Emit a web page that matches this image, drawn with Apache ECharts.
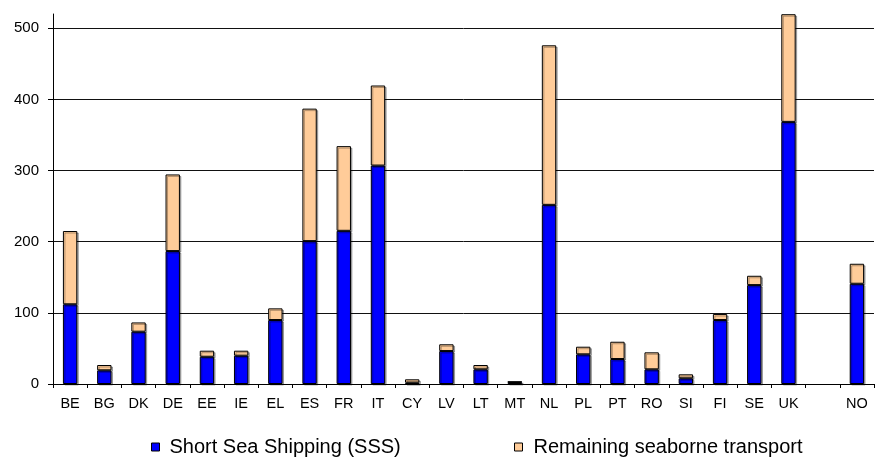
<!DOCTYPE html>
<html>
<head>
<meta charset="utf-8">
<script src="https://cdn.jsdelivr.net/npm/echarts@6/dist/echarts.min.js"></script>
<style>
html,body{margin:0;padding:0;background:#fff;}
#chart{width:878px;height:457px;}
</style>
</head>
<body>
<div id="chart"></div>
<script>
const categories = ['BE','BG','DK','DE','EE','IE','EL','ES','FR','IT','CY','LV','LT','MT','NL','PL','PT','RO','SI','FI','SE','UK','','NO'];
const sssValues = [112, 19.2, 73.5, 186.8, 38.3, 39.8, 89.9, 200.8, 215.3, 307, 1.8, 46.3, 20.6, 2.8, 251.8, 41.7, 35.1, 20.6, 8, 89.9, 139, 368.4, null, 140.9];
const remainingValues = [103, 7.5, 13, 107.7, 8.5, 7, 16.4, 186.2, 119, 112.5, 4.8, 9.5, 6.1, 0.5, 224.2, 10.7, 24.3, 23.9, 5.6, 8.4, 13.1, 151.3, null, 28.1];
const yTicks = [0, 100, 200, 300, 400, 500];
const seriesNames = ['Short Sea Shipping (SSS)', 'Remaining seaborne transport'];

const FONT = 'Liberation Sans, Arial, sans-serif';
const chart = echarts.init(document.getElementById('chart'), null, {renderer: 'canvas'});
const barStyle = (color) => ({
  color: color,
  borderColor: '#000',
  borderWidth: 1,
  shadowColor: 'rgba(0,0,0,0.3)',
  shadowOffsetX: 1.5,
  shadowOffsetY: 1.5,
  shadowBlur: 0
});
chart.setOption({
  animation: false,
  backgroundColor: '#fff',
  grid: {left: 53, right: 4, top: 14, bottom: 73, containLabel: false},
  legend: [
    {
      data: [seriesNames[0]], left: 151, top: 437, padding: 0,
      itemWidth: 8, itemHeight: 8, icon: 'rect',
      itemStyle: {borderColor: '#000', borderWidth: 1},
      textStyle: {fontFamily: FONT, fontSize: 20, color: '#000', padding: [0,0,0,5]}
    },
    {
      data: [seriesNames[1]], left: 514, top: 437, padding: 0,
      itemWidth: 8, itemHeight: 8, icon: 'rect',
      itemStyle: {borderColor: '#000', borderWidth: 1},
      textStyle: {fontFamily: FONT, fontSize: 20, color: '#000', padding: [0,0,0,6]}
    }
  ],
  xAxis: {
    type: 'category',
    data: categories,
    axisLine: {lineStyle: {color: '#000', width: 1}},
    axisTick: {show: true, length: 4, lineStyle: {color: '#000'}},
    axisLabel: {color: '#000', fontFamily: FONT, fontSize: 14.5, margin: 12, interval: 0},
    splitLine: {show: false}
  },
  yAxis: {
    type: 'value',
    min: 0, max: 520, interval: 100,
    axisLine: {show: true, lineStyle: {color: '#000', width: 1}},
    axisTick: {show: true, length: 5, lineStyle: {color: '#000'}, customValues: yTicks},
    axisLabel: {color: '#000', fontFamily: FONT, fontSize: 15, margin: 14, customValues: yTicks},
    splitLine: {show: true, showMinLine: false, lineStyle: {color: '#111', width: 1}}
  },
  series: [
    {
      name: seriesNames[0], type: 'bar', stack: 'total', data: sssValues,
      barWidth: '42%', itemStyle: barStyle('#0000FF')
    },
    {
      name: seriesNames[1], type: 'bar', stack: 'total', data: remainingValues,
      barWidth: '42%', itemStyle: barStyle('#FFCC99')
    }
  ]
});
</script>
</body>
</html>
